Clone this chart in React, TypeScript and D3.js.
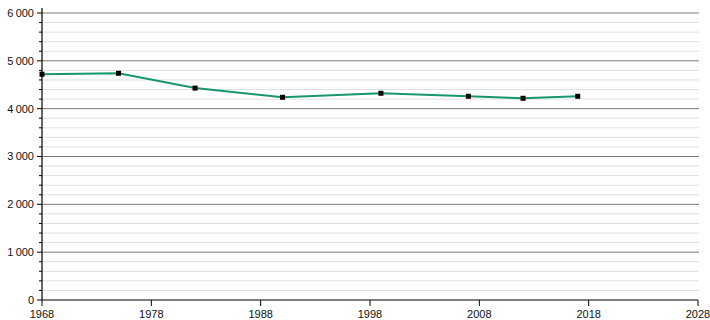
import React from "react";
import * as d3 from "d3";

const years = [1968, 1975, 1982, 1990, 1999, 2007, 2012, 2017];
const population = [4720, 4740, 4430, 4238, 4322, 4259, 4217, 4259];
const xTicks = [1968, 1978, 1988, 1998, 2008, 2018, 2028];
const yMajor = [0, 1000, 2000, 3000, 4000, 5000, 6000];
const yMinor = d3.range(0, 6001, 200).filter((v) => v % 1000 !== 0);

const W = 710;
const H = 320;
const L = 42, R = 698, T = 13, B = 300;

export default function App() {
  const x = d3.scaleLinear().domain([1968, 2028]).range([L, R]);
  const y = d3.scaleLinear().domain([0, 6000]).range([B, T]);
  const pts = years.map((yr, i) => [yr, population[i]] as [number, number]);
  const line = d3.line<[number, number]>().x((d) => x(d[0])).y((d) => y(d[1]));
  const fmt = (v: number) => (v >= 1000 ? `${Math.floor(v / 1000)}\u202f${String(v % 1000).padStart(3, "0")}` : String(v));
  return (
    <svg width={W} height={H} style={{ position: "absolute", left: 0, top: 0, fontFamily: "Liberation Sans, Arial, sans-serif" }}>
      <rect width={W} height={H} fill="#fff" />
      {yMinor.map((v) => (
        <line key={"m" + v} x1={L} x2={R + 1} y1={y(v)} y2={y(v)} stroke="#dedede" strokeWidth={1} />
      ))}
      {yMajor.filter((v) => v > 0).map((v) => (
        <line key={"M" + v} x1={L} x2={R + 1} y1={y(v)} y2={y(v)} stroke="#7a7a7a" strokeWidth={1} />
      ))}
      {yMinor.map((v) => (
        <line key={"mt" + v} x1={L - 3} x2={L} y1={y(v)} y2={y(v)} stroke="#000" strokeWidth={1} />
      ))}
      {yMajor.map((v) => (
        <g key={"yt" + v}>
          <line x1={L - 5} x2={L} y1={y(v)} y2={y(v)} stroke="#000" strokeWidth={1} />
          <text x={L - 8} y={y(v)} dy="0.35em" textAnchor="end" fontSize={11} fill="#111">{fmt(v)}</text>
        </g>
      ))}
      <line x1={L} x2={L} y1={T - 5} y2={B} stroke="#000" strokeWidth={1.2} />
      <line x1={L} x2={R} y1={B} y2={B} stroke="#000" strokeWidth={1.2} />
      {xTicks.map((t) => (
        <g key={"xt" + t}>
          <line x1={x(t)} x2={x(t)} y1={B} y2={B + 6} stroke="#000" strokeWidth={1} />
          <text x={x(t)} y={B + 18} textAnchor="middle" fontSize={11} fill="#111">{t}</text>
        </g>
      ))}
      <path d={line(pts) ?? ""} fill="none" stroke="#16976f" strokeWidth={2} />
      {pts.map((p, i) => (
        <rect key={"p" + i} x={x(p[0]) - 2.5} y={y(p[1]) - 2.5} width={5} height={5} fill="#000" />
      ))}
    </svg>
  );
}
